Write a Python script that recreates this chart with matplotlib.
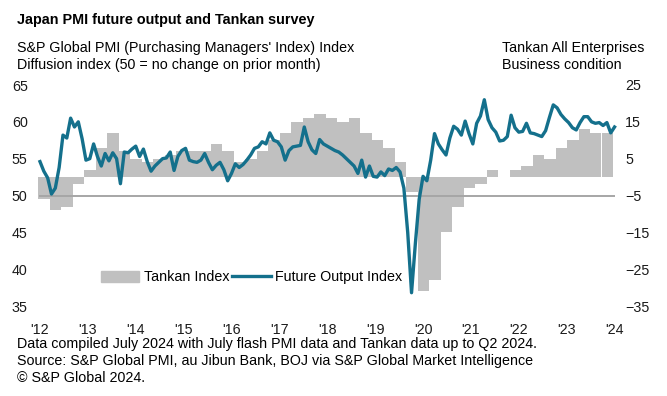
import numpy as np
import matplotlib.pyplot as plt
from matplotlib.patches import Patch
from matplotlib.lines import Line2D

plt.rcParams["font.family"] = ["Liberation Sans", "DejaVu Sans"]

# PMI future output index, monthly, Jan 2012 - Jul 2024
pmi_2012 = [54.6, 53.3, 52.4, 50.2, 51.0, 53.8, 58.2, 57.8, 60.5, 59.3, 60.0, 57.7]
pmi_2013 = [54.8, 55.0, 57.0, 55.3, 54.0, 55.7, 54.7, 55.8, 55.0, 51.6, 55.9, 55.8]
pmi_2014 = [56.3, 56.7, 55.3, 56.3, 54.6, 53.3, 54.0, 54.5, 55.0, 55.1, 55.9, 53.4]
pmi_2015 = [55.3, 56.1, 56.4, 54.8, 54.6, 54.5, 54.8, 55.7, 54.5, 53.5, 54.1, 54.5]
pmi_2016 = [53.5, 52.0, 53.0, 54.3, 53.8, 54.2, 54.8, 55.5, 56.4, 56.6, 57.3, 57.0]
pmi_2017 = [58.5, 57.5, 57.3, 56.6, 54.8, 56.1, 56.6, 56.7, 56.8, 59.3, 57.3, 56.2]
pmi_2018 = [55.7, 57.6, 57.0, 56.7, 56.4, 56.1, 55.9, 55.5, 55.0, 54.5, 54.0, 53.0]
pmi_2019 = [54.8, 52.5, 54.0, 52.6, 52.5, 53.2, 52.7, 53.6, 53.4, 53.8, 53.2, 51.0]
pmi_2020 = [45.0, 36.8, 43.5, 49.5, 52.6, 52.0, 54.8, 58.4, 57.0, 56.2, 55.5, 57.8]
pmi_2021 = [59.4, 59.0, 58.2, 60.1, 58.4, 57.0, 59.8, 60.8, 63.0, 60.3, 59.2, 58.6]
pmi_2022 = [57.4, 57.5, 58.0, 60.9, 59.2, 58.6, 58.7, 59.8, 58.5, 58.4, 58.2, 58.0]
pmi_2023 = [58.8, 60.6, 62.3, 61.9, 61.0, 60.4, 59.9, 59.2, 58.9, 59.9, 60.7, 60.7]
pmi_2024 = [60.0, 59.8, 59.9, 59.5, 59.9, 58.5, 59.3]
pmi = (pmi_2012 + pmi_2013 + pmi_2014 + pmi_2015 + pmi_2016 + pmi_2017
       + pmi_2018 + pmi_2019 + pmi_2020 + pmi_2021 + pmi_2022 + pmi_2023 + pmi_2024)

# Tankan all enterprises business conditions DI, quarterly, Q1 2012 - Q2 2024
tankan = [-6, -9, -8, -2,
          2, 8, 12, 7,
          5, 4, 5, 6,
          7, 7, 7, 9,
          7, 4, 5, 7,
          10, 12, 15, 16,
          17, 16, 15, 16,
          12, 10, 8, 4,
          -4, -31, -28, -15,
          -8, -3, -2, 2,
          0, 2, 3, 6,
          5, 8, 10, 13,
          12, 12]

year_labels = ["'12", "'13", "'14", "'15", "'16", "'17", "'18", "'19",
               "'20", "'21", "'22", "'23", "'24"]

teal = "#14708c"
grey = "#c0c0c0"
fs = 10.3

fig = plt.figure(figsize=(6.67, 3.96), dpi=100)
W, H = 667.0, 396.0
ax = fig.add_axes([36 / W, 1 - 306 / H, (618 - 36) / W, (306 - 85) / H])
ax2 = ax.twinx()

months = np.arange(len(pmi))
quarters = np.arange(len(tankan)) * 3 + 1.1

ax2.bar(quarters, tankan, width=2.98, color=grey, linewidth=0)
ax.hlines(50, months[0] - 0.3, months[-1], color="#a6a6a6", lw=1.4, zorder=1)
ax.plot(months, pmi, color=teal, lw=2.4, zorder=3, solid_joinstyle="round")

# put the PMI axes above the bar axes so the line sits on top
ax.set_zorder(ax2.get_zorder() + 1)
ax.patch.set_visible(False)

ax.set_xlim(-1.04, 150.9)
ax.set_ylim(35, 65)
ax2.set_ylim(-35, 25)
ax.set_yticks(np.arange(35, 66, 5))
ax2.set_yticks(np.arange(-35, 26, 10))
ax.set_xticks(np.arange(len(year_labels)) * 150 / 12)
ax.set_xticklabels(year_labels)

for a in (ax, ax2):
    for s in a.spines.values():
        s.set_visible(False)
    a.tick_params(length=0, labelsize=fs, colors="#1a1a1a")
ax.tick_params(axis="y", pad=6)
ax2.tick_params(axis="y", pad=5)
ax.tick_params(axis="x", pad=12)

handles = [Patch(color=grey), Line2D([0], [0], color=teal, lw=2.4)]
fig.legend(handles, ["Tankan Index", "Future Output Index"], ncol=2,
           loc="center left", bbox_to_anchor=(95 / W, 1 - 277 / H),
           frameon=False, fontsize=fs, handlelength=2.7, handleheight=0.8,
           handletextpad=0.3, columnspacing=0.2, borderaxespad=0)

fig.text(17 / W, 1 - 20 / H, "Japan PMI future output and Tankan survey",
         fontsize=10.4, fontweight="bold", va="center")
fig.text(17 / W, 1 - 48 / H, "S&P Global PMI (Purchasing Managers' Index) Index",
         fontsize=fs, va="center")
fig.text(17 / W, 1 - 65 / H, "Diffusion index (50 = no change on prior month)",
         fontsize=fs, va="center")
fig.text(502 / W, 1 - 48 / H, "Tankan All Enterprises", fontsize=fs, va="center")
fig.text(502 / W, 1 - 65 / H, "Business condition", fontsize=fs, va="center")

footer = ["Data compiled July 2024 with July flash PMI data and Tankan data up to Q2 2024.",
          "Source: S&P Global PMI, au Jibun Bank, BOJ via S&P Global Market Intelligence",
          "\u00a9 S&P Global 2024."]
for i, line in enumerate(footer):
    fig.text(17 / W, 1 - (344 + 17 * i) / H, line, fontsize=fs, va="center")

fig.savefig("out.png", dpi=100)
